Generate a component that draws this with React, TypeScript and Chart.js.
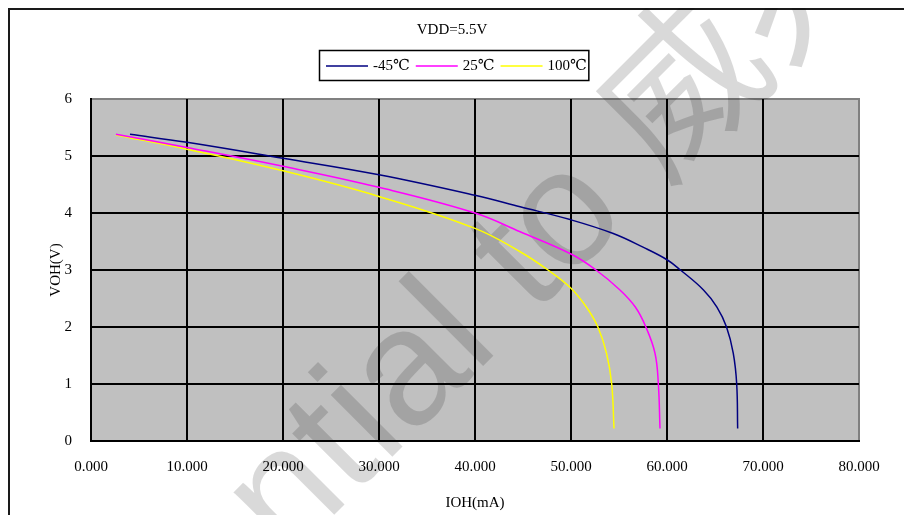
import React, { useEffect, useRef } from "react";
import { Chart, registerables } from "chart.js";

Chart.register(...registerables);

const titleText = "VDD=5.5V";
const xAxisTitle = "IOH(mA)";
const yAxisTitle = "VOH(V)";
const watermarkText = "Confidential to 威兆";

const xTickLabels = ["0.000", "10.000", "20.000", "30.000", "40.000", "50.000", "60.000", "70.000", "80.000"];
const yTickValues = [0, 1, 2, 3, 4, 5, 6];

const seriesNames = ["-45℃", "25℃", "100℃"];
const seriesColors = ["#000080", "#FF00FF", "#FFFF00"];

const iohM45 = [4.06, 10, 20, 30, 40, 44.7, 50, 54.4, 57.5, 60, 61.4, 63.8, 65.2, 66.2, 66.9, 67.26, 67.36];
const vohM45 = [5.38, 5.24, 4.96, 4.67, 4.31, 4.11, 3.88, 3.64, 3.4, 3.18, 3.0, 2.65, 2.35, 2.0, 1.54, 1.0, 0.22];

const ioh25 = [2.6, 10, 20, 30, 40, 44.7, 50, 52.6, 55.1, 56.7, 57.8, 58.75, 59.1, 59.27];
const voh25 = [5.38, 5.15, 4.82, 4.45, 4.0, 3.67, 3.28, 3.0, 2.65, 2.35, 2.0, 1.54, 1.0, 0.22];

const ioh100 = [2.6, 10, 20, 30, 40, 44.7, 47.6, 50, 51.6, 52.8, 53.7, 54.24, 54.48];
const voh100 = [5.37, 5.12, 4.74, 4.29, 3.73, 3.32, 3.0, 2.68, 2.35, 2.0, 1.54, 1.0, 0.22];

const seriesX = [iohM45, ioh25, ioh100];
const seriesY = [vohM45, voh25, voh100];

const FONT = "'Liberation Serif', 'DejaVu Serif', serif";

const decor = {
  id: "decor",
  beforeDraw(chart: any) {
    const { ctx, chartArea: a } = chart;
    ctx.save();
    ctx.fillStyle = "#ffffff";
    ctx.fillRect(0, 0, chart.width, chart.height);
    // outer frame (top & left visible)
    ctx.strokeStyle = "#1a1a1a";
    ctx.lineWidth = 2;
    ctx.beginPath();
    ctx.moveTo(1, chart.height);
    ctx.lineTo(1, 1);
    ctx.lineTo(chart.width, 1);
    ctx.stroke();
    // plot area
    ctx.fillStyle = "#C0C0C0";
    ctx.fillRect(a.left, a.top, a.right - a.left, a.bottom - a.top);
    ctx.strokeStyle = "#808080";
    ctx.lineWidth = 2;
    ctx.strokeRect(a.left, a.top, a.right - a.left, a.bottom - a.top);
    // title
    ctx.fillStyle = "#000";
    ctx.font = `15px ${FONT}`;
    ctx.textAlign = "center";
    ctx.textBaseline = "middle";
    ctx.fillText(titleText, 444, 22);
    // legend
    ctx.textAlign = "left";
    const startX = 318;
    const ly = 58;
    let x = startX;
    for (let i = 0; i < seriesNames.length; i++) {
      ctx.strokeStyle = seriesColors[i];
      ctx.lineWidth = 1.5;
      ctx.beginPath();
      ctx.moveTo(x, ly);
      ctx.lineTo(x + 42, ly);
      ctx.stroke();
      ctx.fillStyle = "#000";
      ctx.fillText(seriesNames[i], x + 47, ly);
      const tw = ctx.measureText(seriesNames[i]).width;
      x = x + 47 + tw + (i < seriesNames.length - 1 ? 6 : 0);
    }
    ctx.strokeStyle = "#000";
    ctx.lineWidth = 1.5;
    ctx.strokeRect(311.5, 42.5, x + 2 - 311.5, 30);
    ctx.restore();
  },
  beforeDatasetsDraw(chart: any) {
    const { ctx } = chart;
    ctx.save();
    ctx.translate(-123, 956);
    ctx.rotate(-Math.PI / 4);
    ctx.font = "165px 'Liberation Sans', 'Noto Sans CJK SC', sans-serif";
    ctx.fillStyle = "rgba(0,0,0,0.15)";
    ctx.textAlign = "left";
    ctx.textBaseline = "alphabetic";
    ctx.fillText(watermarkText, 0, 0);
    ctx.restore();
  },
};

export default function App() {
  const ref = useRef<HTMLCanvasElement>(null);
  useEffect(() => {
    document.documentElement.style.overflow = "hidden";
    document.body.style.overflow = "hidden";
    const datasets = seriesNames.map((name, i) => ({
      label: name,
      data: seriesX[i].map((xv, j) => ({ x: xv, y: seriesY[i][j] })),
      borderColor: seriesColors[i],
      backgroundColor: seriesColors[i],
      borderWidth: 1.5,
      pointRadius: 0,
      tension: 0.4,
      fill: false,
    }));
    const chart = new Chart(ref.current!, {
      type: "line",
      data: { datasets },
      plugins: [decor],
      options: {
        animation: false,
        responsive: false,
        layout: { padding: { top: 91, right: 53, left: 0, bottom: 0 } },
        plugins: {
          legend: { display: false },
          title: { display: false },
          tooltip: { enabled: false },
        },
        scales: {
          x: {
            type: "linear",
            min: 0,
            max: 80,
            ticks: {
              stepSize: 10,
              color: "#000",
              font: { family: FONT, size: 15 },
              padding: 17,
              maxRotation: 0,
              callback: (_v: any, i: number) => xTickLabels[i],
            },
            grid: {
              color: (c: any) => (c.tick && c.tick.value === 80 ? "rgba(0,0,0,0)" : "#000"),
              lineWidth: 2,
              drawTicks: false,
            },
            border: { display: true, color: "#000", width: 2 },
            title: {
              display: true,
              text: xAxisTitle,
              color: "#000",
              font: { family: FONT, size: 15 },
              padding: { top: 0, bottom: 3 },
            },
            afterFit: (s: any) => {
              s.height = 74;
              s.paddingLeft = 0;
              s.paddingRight = 0;
            },
          },
          y: {
            type: "linear",
            min: 0,
            max: 6,
            afterBuildTicks: (s: any) => {
              s.ticks = yTickValues.map((v) => ({ value: v }));
            },
            ticks: {
              color: "#000",
              font: { family: FONT, size: 15 },
              padding: 19,
            },
            grid: {
              color: (c: any) => (c.tick && c.tick.value === 6 ? "rgba(0,0,0,0)" : "#000"),
              lineWidth: 2,
              drawTicks: false,
            },
            border: { display: true, color: "#000", width: 2 },
            title: {
              display: true,
              text: yAxisTitle,
              color: "#000",
              font: { family: FONT, size: 15 },
              padding: { top: 39, bottom: 0 },
            },
            afterFit: (s: any) => {
              s.width = 83;
              s.paddingTop = 0;
              s.paddingBottom = 0;
            },
          },
        },
      } as any,
    });
    return () => chart.destroy();
  }, []);
  return (
    <div style={{ width: 904, height: 507 }}>
      <canvas ref={ref} width={904} height={507} style={{ display: "block" }} />
    </div>
  );
}
